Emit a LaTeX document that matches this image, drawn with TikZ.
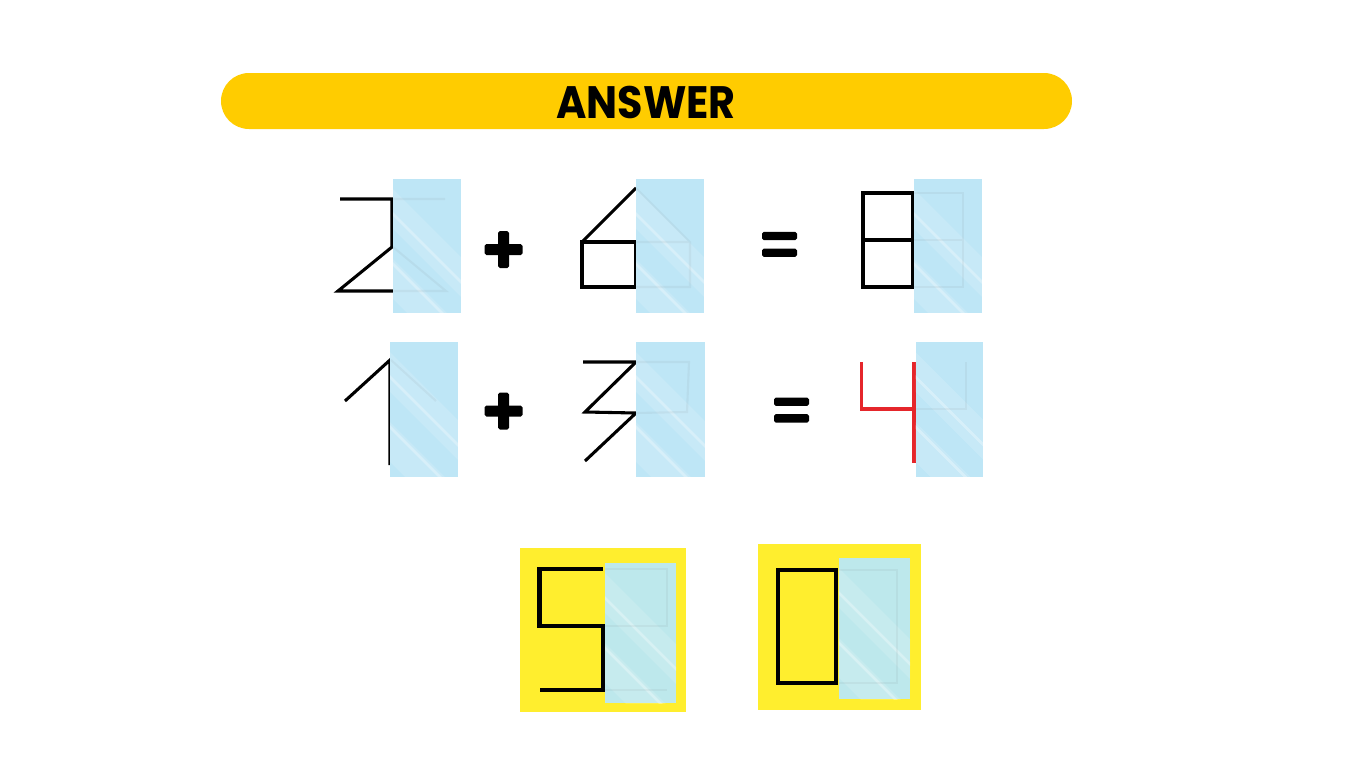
\documentclass[tikz,border=0pt]{standalone}
\usepackage{fontspec}
\newfontfamily\poppins{Poppins}
\definecolor{bannercol}{HTML}{FFCC00}
\definecolor{glass}{HTML}{BEE6F6}
\definecolor{glassy}{HTML}{BDE8EC}
\definecolor{boxyellow}{HTML}{FFEE2E}
\definecolor{redline}{HTML}{E5262B}
\tikzset{
  digit/.style={line width=1.75pt, black, line join=miter},
  thickdigit/.style={line width=2.3pt, black, line join=miter},
  reddigit/.style={line width=1.75pt, redline},
  ghost/.style={line width=1.2pt, black!60, opacity=0.07},
  streak/.style={white, line width=1.5pt, opacity=0.3},
  band/.style={white, line width=16pt, opacity=0.15},
  bar/.style={fill=black, rounded corners=1pt},
}
\newcommand\glasspanel[5]{%
  \begin{scope}
    \clip (#2,#3) rectangle (#4,#5);
    \fill[#1] (#2,#3) rectangle (#4,#5);
    \draw[band] ({#2-20},{#3+10}) -- ++(140,140);
    \draw[band] ({#2-20},{#3+80}) -- ++(140,140);
    \draw[streak] ({#2-10},{#3+25}) -- ++(140,140);
    \draw[streak] ({#2-10},{#3+75}) -- ++(140,140);
  \end{scope}}
\newcommand\plussign[2]{%
  \fill[bar] ({#1-19},{#2-5.5}) rectangle ({#1+19},{#2+5.5});
  \fill[bar] ({#1-5.5},{#2-18.5}) rectangle ({#1+5.5},{#2+18.5});}
\newcommand\equalsign[3]{%
  \fill[bar] (#1,{#3-4.2}) rectangle (#2,{#3+4.2});
  \fill[bar] (#1,{#3+12.5}) rectangle (#2,{#3+20.9});}
\begin{document}
\begin{tikzpicture}[x=0.02cm, y=-0.02cm]
  \useasboundingbox (0,0) rectangle (1366,768);
  \fill[white] (0,0) rectangle (1366,768);

  % banner
  \fill[bannercol, rounded corners=28*0.02cm] (221,73) rectangle (1072,129);
  \node[font=\poppins\bfseries\fontsize{23.5}{26}\selectfont, inner sep=0pt, yscale=1.1] (answer) at (646,102) {ANSWER};

  % ---------- row 1 ----------
  % 2
  \draw[digit] (340,199) -- (392,199) -- (392,247) -- (338,291) -- (393,291);
  \glasspanel{glass}{393}{179}{461}{313}
  \draw[ghost] (393,199) -- (445,199) (393,247) -- (446,291) -- (393,291);
  % +
  \plussign{503.5}{249.5}
  % 6
  \draw[digit] (636,188) -- (582,242);
  \draw[digit] (582,242) rectangle (636,287);
  \glasspanel{glass}{636}{179}{704}{313}
  \draw[ghost] (636,188) -- (690,242) -- (690,287) -- (636,287) (636,242) -- (690,242);
  % =
  \equalsign{762}{797}{236}
  % 8
  \draw[digit] (863,193) rectangle (913,287);
  \draw[digit] (863,240) -- (913,240);
  \glasspanel{glass}{914}{179}{982}{313}
  \draw[ghost] (914,193) -- (963,193) -- (963,287) -- (914,287) (914,240) -- (963,240);

  % ---------- row 2 ----------
  % 1
  \draw[digit] (345,401) -- (390,360) -- (390,465);
  \glasspanel{glass}{390}{342}{458}{477}
  \draw[ghost] (391,360) -- (436,401);
  % +
  \plussign{503.5}{411}
  % 3
  \draw[digit] (583,362) -- (636,362) -- (585,412) -- (636,413) -- (585,461);
  \glasspanel{glass}{636}{342}{705}{477}
  \draw[ghost] (636,362) -- (689,362) -- (687,412) -- (636,413);
  % =
  \equalsign{774}{809}{401.7}
  % 4 (red)
  \draw[reddigit] (861.5,362) -- (861.5,409) -- (914,409);
  \draw[reddigit] (914,362) -- (914,463);
  \glasspanel{glass}{915.5}{342}{983}{477}
  \draw[ghost] (966,362) -- (966,409) -- (916,409);

  % ---------- answers ----------
  \fill[boxyellow] (520,548) rectangle (686,712);
  \draw[thickdigit] (603,569) -- (539.5,569) -- (539.5,626) -- (603,626) -- (603,690) -- (540,690);
  \glasspanel{glassy}{605}{563}{676}{703}
  \draw[ghost] (605,569) -- (667,569) -- (667,626) -- (605,626) (605,690) -- (667,690);

  \fill[boxyellow] (758,544) rectangle (921,710);
  \draw[thickdigit] (778,570) rectangle (836,683);
  \glasspanel{glassy}{839}{558}{910}{699}
  \draw[ghost] (839,570) -- (897,570) -- (897,683) -- (839,683);
\end{tikzpicture}
\end{document}
